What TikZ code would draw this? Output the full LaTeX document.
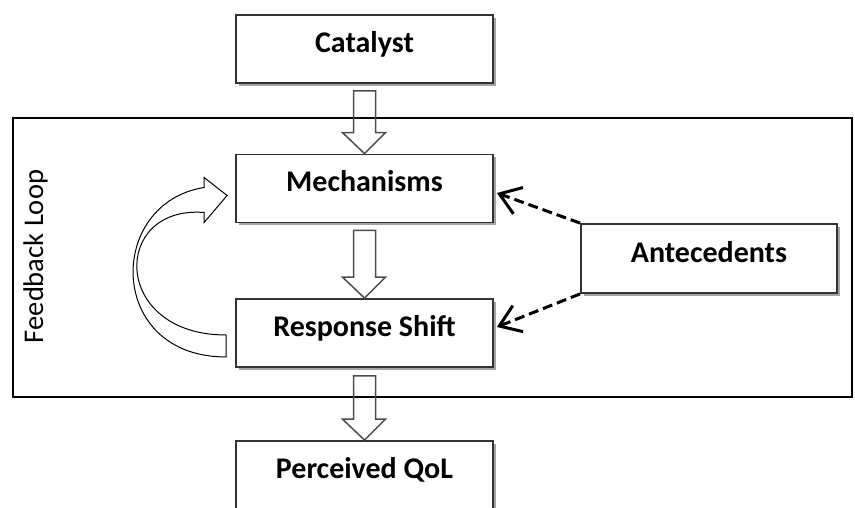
\documentclass[tikz,border=0pt]{standalone}
\usepackage{fontspec}
\setmainfont{Carlito}
\usetikzlibrary{shadows,arrows.meta,calc}
\tikzset{
  box/.style={draw=black!80, line width=1.8pt, fill=white, rectangle,
    minimum width=257pt, minimum height=68pt, inner sep=0pt,
    text height=12pt, text depth=5pt,
    font=\fontsize{30}{34}\selectfont\bfseries,
    drop shadow={shadow xshift=3pt, shadow yshift=-3pt, fill=black!45, opacity=0.8}},
  harrow/.style={draw=black!70, line width=1.5pt, line join=miter},
  dasharrow/.style={draw=black, line width=3pt, dash pattern=on 10pt off 5pt,
    -{Straight Barb[length=20pt,width=28pt,line width=3pt]}},
  curvearrow/.style={draw=black, line width=1pt, fill=white, line join=miter}
}
\newcommand\hollowdown[2]{%
  \draw[harrow] ($(#1)+(-11,0)$) -- ($(#2)+(-11,-21)$) -- ($(#2)+(-22,-21)$)
    -- (#2) -- ($(#2)+(21,-21)$) -- ($(#2)+(11,-21)$) -- ($(#1)+(11,0)$) -- cycle;}
\begin{document}
\begin{tikzpicture}[x=1pt,y=-1pt]
\useasboundingbox (0,0) rectangle (855,508);
% feedback loop frame
\node[draw=black, line width=1.3pt, rectangle, inner sep=0pt, minimum width=839pt, minimum height=279pt] (frame) at (432.5,257.5) {};
\node[rotate=90, anchor=base, font=\fontsize{28.5}{32}\selectfont] (fbl) at (43,256.5) {Feedback Loop};
% boxes
\node[box] (cat) at (364.5,49) {Catalyst};
\node[box] (mech) at (364.5,188.5) {Mechanisms};
\node[box] (resp) at (364.5,333) {Response Shift};
\node[box] (qol) at (364.5,475) {Perceived QoL};
\node[box, minimum width=256pt, minimum height=69pt] (ante) at (709,258.5) {Antecedents};
% hollow arrows
\coordinate (a1s) at ($(cat.south)+(0,7)$);
\coordinate (a2s) at ($(mech.south)+(0,7)$);
\coordinate (a3s) at ($(resp.south)+(0,8)$);
\hollowdown{a1s}{mech.north}
\hollowdown{a2s}{resp.north}
\hollowdown{a3s}{qol.north}
% curved feedback arrow
\coordinate (ctip) at ($(mech.west)+(-8,7)$);
\coordinate (ctailA) at ($(resp.west)+(-9,24)$);
\coordinate (ctailB) at ($(resp.west)+(-9,2)$);
\draw[curvearrow] (ctailA) .. controls (106,357) and (106,203) .. ($(ctip)+(-23,-8)$)
  -- ($(ctip)+(-23,-18)$) -- (ctip) -- ($(ctip)+(-23,27)$) -- ($(ctip)+(-23,17)$)
  .. controls (111,205) and (111,335) .. (ctailB) -- cycle;
% dashed arrows
\coordinate (m1) at ($(mech.east)+(3,4.5)$);
\coordinate (r1) at ($(resp.east)+(3,-6)$);
\draw[dasharrow] (ante.north west) -- (m1);
\draw[dasharrow] (ante.south west) -- (r1);
\end{tikzpicture}
\end{document}
